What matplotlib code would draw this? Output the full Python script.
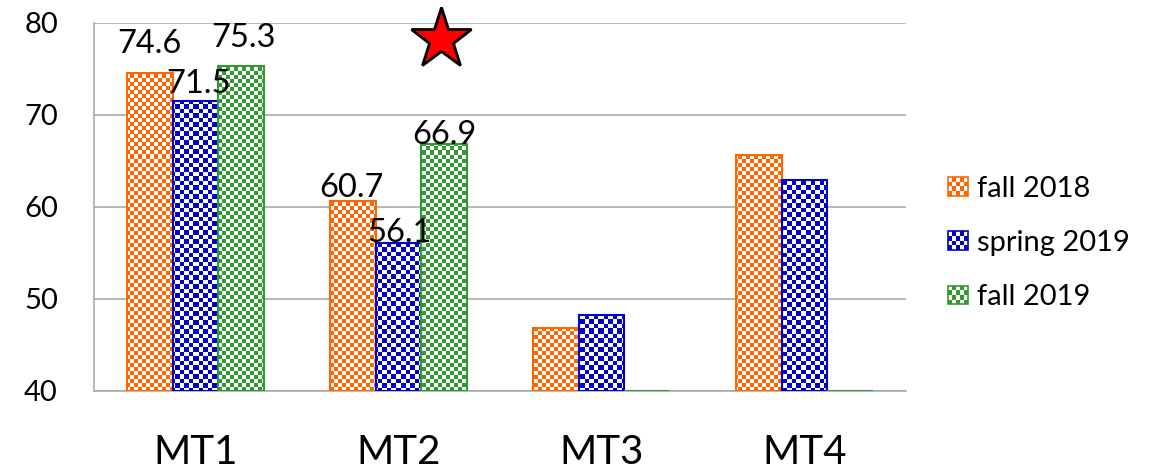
import numpy as np
import matplotlib
matplotlib.use("Agg")
import matplotlib.pyplot as plt
from matplotlib.patches import Rectangle
from matplotlib.legend_handler import HandlerBase
from matplotlib.transforms import offset_copy

plt.rcParams["font.family"] = ["Lato", "DejaVu Sans"]

# ---- data -------------------------------------------------------------
categories = ["MT1", "MT2", "MT3", "MT4"]
series_names = ["fall 2018", "spring 2019", "fall 2019"]
fall_2018 = [74.6, 60.7, 46.8, 65.6]
spring_2019 = [71.5, 56.1, 48.3, 62.9]
fall_2019 = [75.3, 66.9, 0.0, 0.0]
series_values = [fall_2018, spring_2019, fall_2019]
labeled_categories = ["MT1", "MT2"]
y_ticks = [40, 50, 60, 70, 80]

# ---- style ------------------------------------------------------------
colors = ["#FF6600", "#0000CC", "#339933"]
cell_px = [4, 4.5, 4]
grid_color = "#A6A6A6"
y_min, y_max = 40, 80
bar_w = 0.224
# value-label offsets (pixels, x / y above bar top) per series, per labeled category
label_dx = [[-1, -2], [3, 1], [2.5, 0.5]]
label_dy = [[20, 4], [8, 1], [19, 0]]

DPI = 100
fig = plt.figure(figsize=(11.55, 4.70), dpi=DPI)
ax = fig.add_axes([94 / 1155, 1 - 391 / 470, (906 - 94) / 1155, (391 - 23) / 470])

x = np.arange(len(categories))
ax.set_xlim(-0.5, len(categories) - 0.5)
ax.set_ylim(y_min, y_max)

# axes size in pixels, used to build pixel-aligned checkerboards
fig.canvas.draw()
bb = ax.get_window_extent()
W, H = int(round(bb.width)), int(round(bb.height))
yy, xx = np.mgrid[0:H, 0:W]


def checker_image(color, cell):
    rgb = np.array(matplotlib.colors.to_rgb(color))
    mask = ((xx // cell) + (yy // cell)) % 2 == 0
    img = np.ones((H, W, 3))
    img[mask] = rgb
    return img


offsets = (np.arange(len(series_values)) - 1) * bar_w
for s, vals in enumerate(series_values):
    heights = [max(v - y_min, 0.0) for v in vals]
    bars = ax.bar(x + offsets[s], heights, width=bar_w, bottom=y_min,
                  facecolor="none", edgecolor=colors[s], linewidth=1.5,
                  zorder=3, label=series_names[s])
    img = checker_image(colors[s], cell_px[s])
    for rect in bars.patches:
        if rect.get_height() <= 0:
            continue
        im = ax.imshow(img, extent=(-0.5, len(categories) - 0.5, y_min, y_max),
                       origin="upper", interpolation="nearest", aspect="auto",
                       zorder=2)
        im.set_clip_path(rect)
    # value labels
    for j, cat in enumerate(labeled_categories):
        i = categories.index(cat)
        tr = offset_copy(ax.transData, fig=fig,
                         x=label_dx[s][j] * 72 / DPI, y=label_dy[s][j] * 72 / DPI,
                         units="points")
        ax.text(x[i] + offsets[s], vals[i], f"{vals[i]:.1f}", transform=tr,
                ha="center", va="baseline", fontsize=23.5, color="black",
                zorder=5)

# star marker
ax.plot([1.209], [78.3], marker="*", markersize=46, markerfacecolor="#FF0000",
        markeredgecolor="black", markeredgewidth=2, linestyle="none",
        zorder=6, clip_on=False)

# axes styling
ax.set_yticks(y_ticks)
ax.set_yticklabels([str(t) for t in y_ticks], fontsize=21)
ax.set_xticks(x)
ax.set_xticklabels(categories, fontsize=29)
ax.tick_params(axis="y", length=0, pad=26)
ax.tick_params(axis="x", length=0, pad=31)
ax.grid(axis="y", color=grid_color, linewidth=1.1, zorder=0)
ax.set_axisbelow(True)
for side in ["top", "right"]:
    ax.spines[side].set_visible(False)
for side in ["left", "bottom"]:
    ax.spines[side].set_color(grid_color)
    ax.spines[side].set_linewidth(1.1)


class CheckerHandler(HandlerBase):
    def __init__(self, color, ncols=5, nrows=4):
        super().__init__()
        self.color = color
        self.ncols = ncols
        self.nrows = nrows

    def create_artists(self, legend, orig_handle, xdescent, ydescent,
                       width, height, fontsize, trans):
        artists = [Rectangle((-xdescent, -ydescent), width, height,
                             facecolor="white", edgecolor="none", transform=trans)]
        cw, ch = width / self.ncols, height / self.nrows
        for r in range(self.nrows):
            for c in range(self.ncols):
                if (r + c) % 2 == 0:
                    artists.append(Rectangle((-xdescent + c * cw, -ydescent + r * ch),
                                             cw, ch, facecolor=self.color,
                                             edgecolor="none", transform=trans))
        artists.append(Rectangle((-xdescent, -ydescent), width, height,
                                 facecolor="none", edgecolor=self.color,
                                 linewidth=1.2, transform=trans))
        return artists


handles, labels = ax.get_legend_handles_labels()
fig.legend(handles, labels,
           handler_map={h: CheckerHandler(colors[k]) for k, h in enumerate(handles)},
           loc="center left", bbox_to_anchor=(948 / 1155, 1 - 243 / 470),
           frameon=False, fontsize=21, handlelength=0.69, handleheight=0.62,
           handletextpad=0.32, labelspacing=0.97, borderpad=0, borderaxespad=0)

fig.savefig("out.png", dpi=DPI)
